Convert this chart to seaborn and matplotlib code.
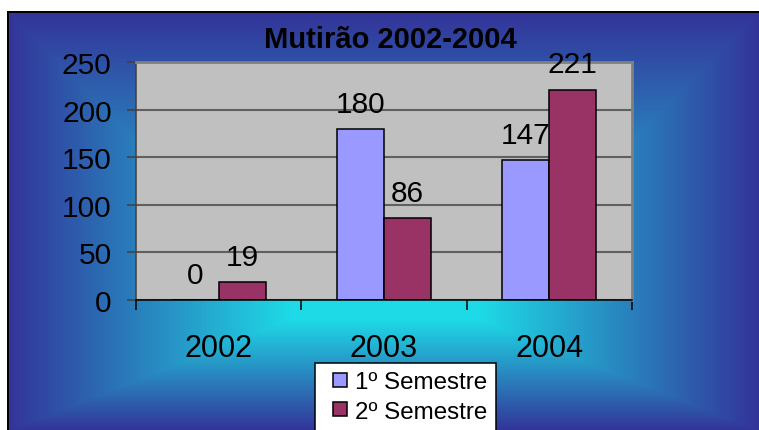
import numpy as np
import pandas as pd
import matplotlib
matplotlib.use("Agg")
import matplotlib.pyplot as plt
from matplotlib.lines import Line2D
import seaborn as sns

# data
anos = ["2002", "2003", "2004"]
semestres = ["1º Semestre", "2º Semestre"]
primeiro = [0, 180, 147]
segundo = [19, 86, 221]
y_ticks = [0, 50, 100, 150, 200, 250]
titulo = "Mutirão 2002-2004"

cores = ["#9999FF", "#993366"]

W, H = 759, 431


def gradient_background():
    """Rectangular 'from centre' gradient, cyan in the middle, dark blue at the edges."""
    yy, xx = np.mgrid[0:H, 0:W].astype(float)
    x0, x1, y0, y1 = 7, 759, 12, 431
    cx0, cx1, cy0, cy1 = 290, 480, 300, 320
    tx = np.where(xx < cx0, (cx0 - xx) / (cx0 - x0),
                  np.where(xx > cx1, (xx - cx1) / (x1 - cx1), 0))
    ty = np.where(yy < cy0, (cy0 - yy) / (cy0 - y0),
                  np.where(yy > cy1, (yy - cy1) / (y1 - cy1), 0))
    t = np.clip(np.maximum(tx, ty), 0, 1)[..., None]
    c_in = np.array([30, 218, 230]) / 255
    c_out = np.array([51, 51, 153]) / 255
    img = c_in * (1 - t) + c_out * t
    img[:y0, :] = 1
    img[:, :x0] = 1
    img[y0:y0 + 2, x0:] = 0
    img[y0:, x0:x0 + 2] = 0
    return img


df = pd.DataFrame({
    "ano": anos * 2,
    "semestre": [semestres[0]] * 3 + [semestres[1]] * 3,
    "valor": primeiro + segundo,
})

plt.rcParams["font.family"] = ["Liberation Sans", "DejaVu Sans"]

fig = plt.figure(figsize=(W / 100, H / 100), dpi=100)

bg = fig.add_axes([0, 0, 1, 1], zorder=-5)
bg.imshow(gradient_background(), aspect="auto", interpolation="bilinear")
bg.set_axis_off()

ax = fig.add_axes([136 / W, 1 - 301 / H, (632 - 136) / W, (301 - 63) / H])
ax.set_facecolor("#C0C0C0")

sns.barplot(
    data=df, x="ano", y="valor", hue="semestre", hue_order=semestres,
    palette=cores, saturation=1, width=0.57, gap=0, errorbar=None,
    edgecolor="black", linewidth=1.1, legend=False, ax=ax,
)

for cont in ax.containers:
    ax.bar_label(cont, labels=[f"{v:.0f}" for v in cont.datavalues],
                 padding=8, fontsize=21.5)

ax.set_xlim(-0.5, 2.5)
ax.set_ylim(0, 250)
ax.set_yticks(y_ticks)
ax.set_axisbelow(True)
ax.yaxis.grid(True, color="#606060", linewidth=1.5)
ax.xaxis.grid(False)

ax.set_xticks(range(len(anos)), labels=anos)
ax.set_xticks([-0.5, 0.5, 1.5, 2.5], minor=True)
ax.tick_params(axis="x", which="major", length=0, pad=24, labelsize=22)
ax.tick_params(axis="x", which="minor", length=7, width=1.1, color="black")
ax.tick_params(axis="y", length=6.5, width=1.1, color="#404040", pad=11, labelsize=21.5)
ax.set_xlabel("")
ax.set_ylabel("")

for side in ["top", "right"]:
    ax.spines[side].set_color("#808080")
    ax.spines[side].set_linewidth(2)
ax.spines["left"].set_color("#404040")
ax.spines["left"].set_linewidth(1.1)
ax.spines["bottom"].set_color("black")
ax.spines["bottom"].set_linewidth(1.1)

fig.text(390 / W, 1 - 40 / H, titulo, ha="center", va="center",
         fontsize=21, fontweight="bold")

handles = [
    Line2D([], [], linestyle="none", marker="s", markersize=9.5,
           markerfacecolor=c, markeredgecolor="black", markeredgewidth=1.1)
    for c in cores
]
leg = fig.legend(
    handles, semestres, loc="upper left",
    bbox_to_anchor=(315 / W, 1 - 364 / H), borderaxespad=0,
    fontsize=17.4, frameon=True, fancybox=False, edgecolor="black",
    framealpha=1, borderpad=0.35, labelspacing=0.3,
    handlelength=1.4, handletextpad=-0.1,
)
leg.get_frame().set_linewidth(1.1)

fig.savefig("out.png", dpi=100)
